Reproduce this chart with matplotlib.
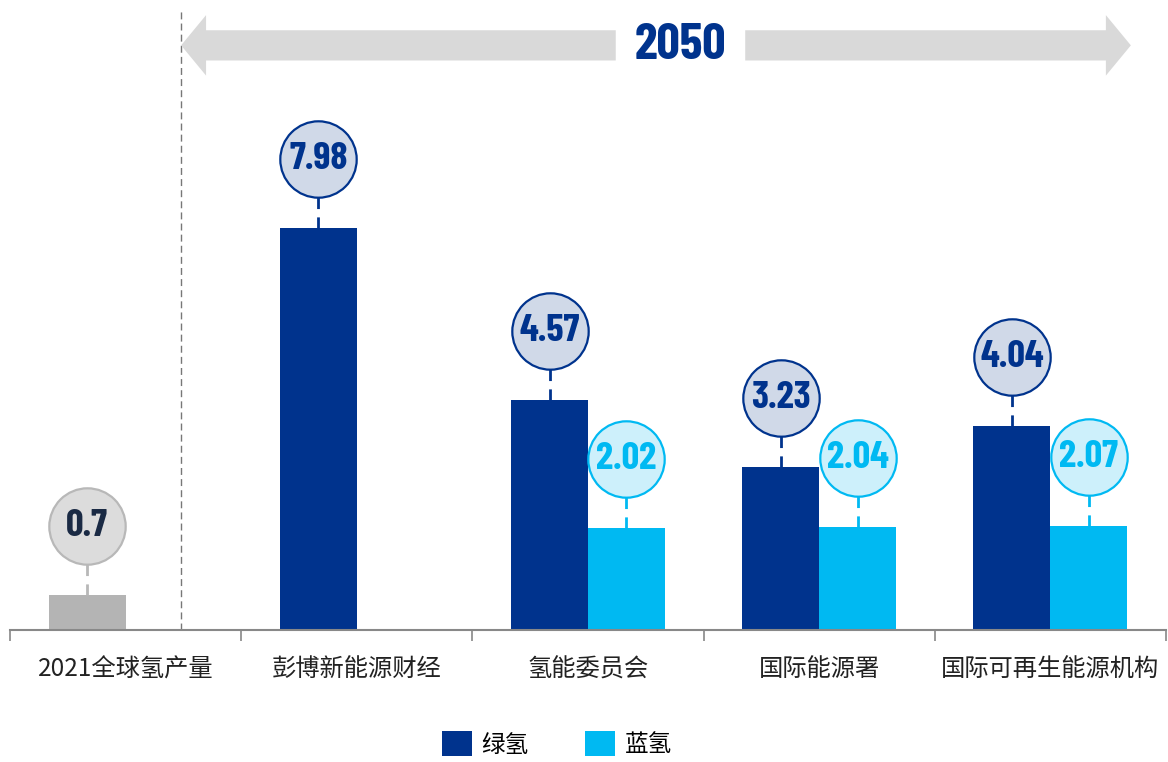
import numpy as np
import matplotlib.pyplot as plt
from matplotlib.patches import FancyArrow

plt.rcParams['font.family'] = ['Noto Sans CJK SC', 'DejaVu Sans']

categories = ['2021全球氢产量', '彭博新能源财经', '氢能委员会', '国际能源署', '国际可再生能源机构']
current_2021 = 0.7
green_h2 = [np.nan, 7.98, 4.57, 3.23, 4.04]
blue_h2 = [np.nan, np.nan, 2.02, 2.04, 2.07]
year_label = '2050'

NAVY = '#00338d'
CYAN = '#00b9f2'
GREY = '#b4b4b4'
NUM_FONT = ['Barlow Condensed', 'DejaVu Sans']

fig = plt.figure(figsize=(11.68, 7.62), dpi=100)
ax = fig.add_axes([10 / 1168, 132 / 762, 1156 / 1168, 630 / 762])

x = np.arange(len(categories))
w = 0.333
ax.set_xlim(-0.5, len(categories) - 0.5)
ax.set_ylim(0, 12.5)

# bars
ax.bar(x[0] - w / 2, current_2021, w, color=GREY, zorder=2)
ax.bar(x - w / 2, green_h2, w, color=NAVY, label='绿氢', zorder=2)
ax.bar(x + w / 2, blue_h2, w, color=CYAN, label='蓝氢', zorder=2)

# bubbles with dashed connectors
offset = 1.37


def bubble(xp, val, face, edge, txt, lc):
    ax.plot([xp, xp], [val, val + offset], color=lc, lw=2, ls=(0, (4, 3)), zorder=3)
    ax.plot(xp, val + offset, 'o', ms=55, mfc=face, mec=edge, mew=1.6, zorder=4)
    ax.text(xp, val + offset, f'{val:g}', ha='center', va='center', fontsize=28,
            fontweight='bold', color=txt, family=NUM_FONT, zorder=5)


bubble(x[0] - w / 2, current_2021, '#dcdcdc', '#b8b8b8', '#1a2a44', '#b8b8b8')
for i in range(len(categories)):
    if not np.isnan(green_h2[i]):
        bubble(x[i] - w / 2, green_h2[i], '#d0d9e8', NAVY, NAVY, NAVY)
    if not np.isnan(blue_h2[i]):
        bubble(x[i] + w / 2, blue_h2[i], '#cdf0fb', CYAN, CYAN, CYAN)

# separator between 2021 and 2050 projections
sep = 0.24
ax.plot([sep, sep], [0, 12.35], color='#777777', lw=1, ls=(0, (5, 3)), zorder=1)

# 2050 double arrow
ay = 11.6
ax.add_patch(FancyArrow(2.12, ay, sep - 2.12, 0, width=0.6, head_width=1.2,
                        head_length=0.108, length_includes_head=True,
                        color='#d9d9d9', lw=0))
ax.add_patch(FancyArrow(2.68, ay, 4.348 - 2.68, 0, width=0.6, head_width=1.2,
                        head_length=0.108, length_includes_head=True,
                        color='#d9d9d9', lw=0))
ax.text(2.4, ay, year_label, ha='center', va='center', fontsize=37,
        fontweight='bold', color=NAVY, family=NUM_FONT)

# axis styling
for s in ['top', 'right', 'left']:
    ax.spines[s].set_visible(False)
ax.spines['bottom'].set_color('#888888')
ax.spines['bottom'].set_linewidth(1.5)
ax.set_yticks([])
ax.set_xticks(x)
ax.set_xticklabels(categories, fontsize=17.5, color='#222222')
ax.tick_params(axis='x', which='major', length=0, pad=19)
ax.set_xticks(np.arange(-0.5, len(categories)), minor=True)
ax.tick_params(axis='x', which='minor', length=8, width=1.2, color='#888888', direction='out')

fig.legend(loc='center', bbox_to_anchor=(0.477, 0.024), ncol=2, frameon=False,
           fontsize=17, handlelength=1.27, handleheight=1.27, handletextpad=0.42,
           columnspacing=2.4)

fig.savefig('out.png', dpi=100)
